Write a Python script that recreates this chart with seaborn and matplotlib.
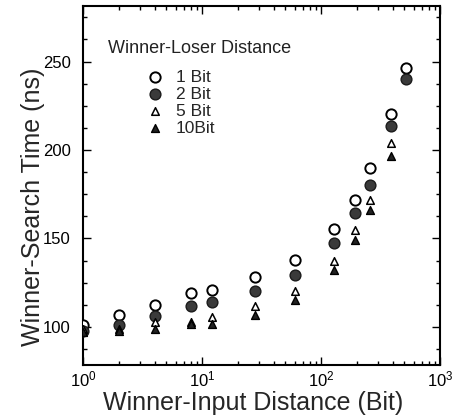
import numpy as np
import pandas as pd
import matplotlib
matplotlib.use("Agg")
import matplotlib.pyplot as plt
import seaborn as sns
from matplotlib.ticker import LogLocator, MultipleLocator, NullFormatter

# values
distance = [1, 2, 4, 8, 12, 28, 60, 128, 192, 256, 384, 512]
time_1bit = [101, 106.5, 112.4, 119, 121, 128.2, 138, 155.2, 172, 189.8, 220.5, 246.5]
time_2bit = [97.5, 101.2, 106.4, 112, 114.3, 120.5, 129.4, 147.2, 164.3, 180.3, 213.6, 240]
time_5bit = [99, 99, 103, 103, 105.5, 111.7, 120.2, 137, 155, 171.8, 203.8, np.nan]
time_10bit = [97, 97.5, 98.9, 101.8, 101.8, 106.8, 115.5, 132.4, 149, 166.2, 196.6, np.nan]

series_labels = ["1 Bit", "2 Bit", "5 Bit", "10Bit"]
series_values = [time_1bit, time_2bit, time_5bit, time_10bit]

sns.set_style("ticks")
plt.rcParams["font.family"] = ["Liberation Sans", "DejaVu Sans"]
plt.rcParams["mathtext.fontset"] = "custom"
plt.rcParams["mathtext.rm"] = "Liberation Sans"

fig = plt.figure(figsize=(4.59, 4.19), dpi=100)
ax = fig.add_axes([0.181, 0.129, 0.778, 0.857])

styles = [
    dict(marker="o", color="white", edgecolor="black", s=55, linewidth=1.4),
    dict(marker="o", color="#3a3a3a", edgecolor="#1a1a1a", s=60, linewidth=1.0),
    dict(marker="^", color="white", edgecolor="black", s=30, linewidth=1.1),
    dict(marker="^", color="#222222", edgecolor="black", s=32, linewidth=1.0),
]

for lab, vals, st in zip(series_labels, series_values, styles):
    df = pd.DataFrame({"x": distance, "y": vals}).dropna()
    sns.scatterplot(data=df, x="x", y="y", ax=ax, label=lab, zorder=3, **st)

ax.set_xscale("log")
ax.set_xlim(1, 1000)
ax.set_ylim(78.5, 281.5)

ax.yaxis.set_minor_locator(MultipleLocator(12.5))
ax.set_yticks([100, 150, 200, 250])
ax.xaxis.set_major_locator(LogLocator(base=10))
ax.xaxis.set_minor_locator(LogLocator(base=10, subs=np.arange(2, 10)))
ax.xaxis.set_minor_formatter(NullFormatter())

ax.tick_params(which="both", direction="in", top=True, right=True,
               width=1.0, labelsize=12, colors="black")
ax.tick_params(which="major", length=6)
ax.tick_params(which="minor", length=3)
ax.tick_params(axis="y", which="major", pad=9)
for sp in ax.spines.values():
    sp.set_linewidth(1.5)
    sp.set_color("black")

ax.set_xlabel("Winner-Input Distance (Bit)", fontsize=18)
ax.set_ylabel("Winner-Search Time (ns)", fontsize=18)
ax.xaxis.set_label_coords(0.475, -0.072)
ax.yaxis.set_label_coords(-0.108, 0.44)

ax.text(0.07, 0.88, "Winner-Loser Distance", transform=ax.transAxes,
        fontsize=13, va="center", ha="left", color="#222222")
ax.legend(loc="upper left", bbox_to_anchor=(0.182, 0.822), frameon=False,
          fontsize=12.5, handlelength=0.8, handletextpad=0.8,
          labelspacing=0.1, borderpad=0, borderaxespad=0)

fig.savefig("out.png", dpi=100)
